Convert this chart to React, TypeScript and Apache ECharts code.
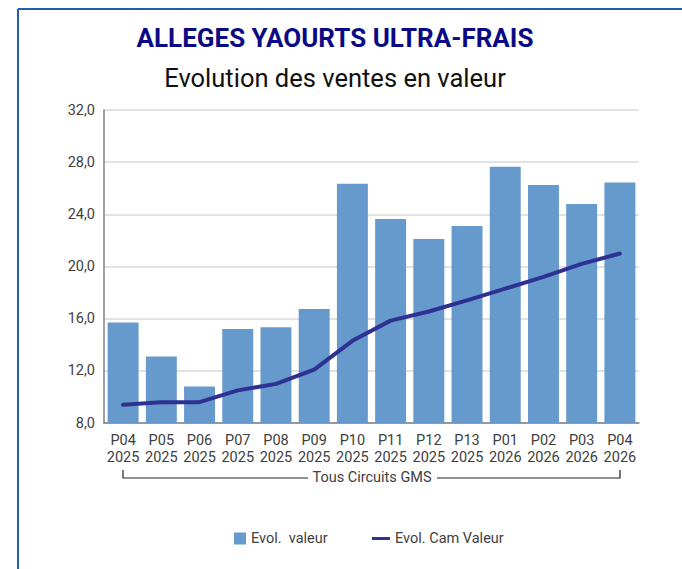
import React, { useEffect, useRef } from "react";
import * as echarts from "echarts";

const categories = [
  "P04\n2025", "P05\n2025", "P06\n2025", "P07\n2025", "P08\n2025", "P09\n2025", "P10\n2025",
  "P11\n2025", "P12\n2025", "P13\n2025", "P01\n2026", "P02\n2026", "P03\n2026", "P04\n2026",
];
const evolValeur = [15.7, 13.1, 10.8, 15.2, 15.35, 16.75, 26.35, 23.65, 22.1, 23.1, 27.65, 26.25, 24.8, 26.45];
const evolCamValeur = [9.4, 9.6, 9.6, 10.5, 11.0, 12.1, 14.3, 15.85, 16.55, 17.4, 18.3, 19.2, 20.2, 21.0];
const yTicks = { min: 8, max: 32, interval: 4 };
const titleText = "ALLEGES YAOURTS ULTRA-FRAIS";
const subtitleText = "Evolution des ventes en valeur";
const groupLabel = "Tous Circuits GMS";
const barName = "Evol.  valeur";
const lineName = "Evol. Cam Valeur";

const FONT = "Roboto, 'Noto Sans', sans-serif";

export default function App() {
  const ref = useRef<HTMLDivElement>(null);
  useEffect(() => {
    document.body.style.margin = "0";
    const chart = echarts.init(ref.current!, null, { renderer: "svg" });
    chart.setOption({
      animation: false,
      backgroundColor: "#ffffff",
      textStyle: { fontFamily: FONT },
      grid: { left: 104, right: 43, top: 110, bottom: 146, containLabel: false },
      legend: [
        {
          left: 234,
          top: 531,
          padding: 0,
          itemWidth: 12,
          itemHeight: 12,
          icon: "rect",
          data: [barName],
          textStyle: { color: "#404040", fontSize: 14.5, fontFamily: FONT },
        },
        {
          left: 372,
          top: 531,
          padding: 0,
          itemWidth: 18,
          itemHeight: 3,
          icon: "rect",
          data: [lineName],
          textStyle: { color: "#404040", fontSize: 14.5, fontFamily: FONT },
        },
      ],
      xAxis: {
        type: "category",
        data: categories,
        axisLine: { show: true, lineStyle: { color: "#808080", width: 1.5 } },
        axisTick: { show: false },
        axisLabel: {
          color: "#404040",
          fontSize: 14.5,
          lineHeight: 17,
          margin: 9,
          interval: 0,
          fontFamily: FONT,
        },
      },
      yAxis: {
        type: "value",
        min: yTicks.min,
        max: yTicks.max,
        interval: yTicks.interval,
        axisLine: { show: true, lineStyle: { color: "#808080", width: 1.5 } },
        axisTick: { show: false },
        axisLabel: {
          color: "#404040",
          fontSize: 14.5,
          margin: 9,
          fontFamily: FONT,
          formatter: (v: number) => v.toFixed(1).replace(".", ","),
        },
        splitLine: { show: true, lineStyle: { color: "#d9d9d9", width: 1.5 } },
      },
      series: [
        {
          name: barName,
          type: "bar",
          data: evolValeur,
          barCategoryGap: "19%",
          itemStyle: { color: "#6699cc" },
        },
        {
          name: lineName,
          type: "line",
          data: evolCamValeur,
          showSymbol: false,
          symbol: "none",
          lineStyle: { color: "#2e3192", width: 4, join: "round", cap: "round" },
          itemStyle: { color: "#2e3192" },
        },
      ],
      graphic: [
        { type: "line", shape: { x1: 18, y1: 9, x2: 682, y2: 9 }, style: { stroke: "#1f5fae", lineWidth: 2 } },
        { type: "line", shape: { x1: 18, y1: 9, x2: 18, y2: 569 }, style: { stroke: "#1f5fae", lineWidth: 2 } },
        {
          type: "text",
          x: 335,
          y: 38,
          style: {
            text: titleText,
            fill: "#0a0a86",
            font: `bold 26px ${FONT}`,
            textAlign: "center",
            textVerticalAlign: "middle",
          },
        },
        {
          type: "text",
          x: 335,
          y: 78,
          style: {
            text: subtitleText,
            fill: "#111111",
            font: `25.5px ${FONT}`,
            textAlign: "center",
            textVerticalAlign: "middle",
          },
        },
        {
          type: "polyline",
          shape: { points: [[123, 470], [123, 478], [308, 478]] },
          style: { stroke: "#222", lineWidth: 1.2, fill: "none" },
        },
        {
          type: "polyline",
          shape: { points: [[437, 478], [620, 478], [620, 470]] },
          style: { stroke: "#222", lineWidth: 1.2, fill: "none" },
        },
        {
          type: "text",
          x: 372,
          y: 477,
          style: {
            text: groupLabel,
            fill: "#404040",
            font: `14.5px ${FONT}`,
            textAlign: "center",
            textVerticalAlign: "middle",
          },
        },
      ],
    });
    return () => chart.dispose();
  }, []);
  return (
    <div
      ref={ref}
      style={{ position: "absolute", left: 0, top: 0, width: 682, height: 569 }}
    />
  );
}
